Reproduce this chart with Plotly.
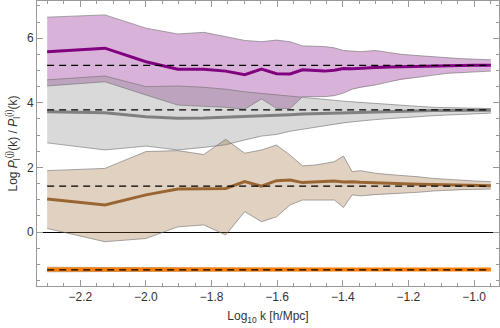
import numpy as np
import plotly.graph_objects as go

# k grid [h/Mpc] of the measured points
k = [0.005, 0.0075, 0.01, 0.0125, 0.015, 0.0175, 0.02, 0.0225, 0.025, 0.0275,
     0.03, 0.0325, 0.035, 0.0375, 0.04, 0.0425, 0.045, 0.05, 0.055, 0.06,
     0.0675, 0.075, 0.0825, 0.09, 0.1, 0.1125]

purple_hi = [6.65, 6.72, 6.31, 6.13, 6.18, 6.05, 5.93, 5.89, 5.94, 5.89, 5.76, 5.75, 5.74,
             5.70, 5.62, 5.60, 5.58, 5.62, 5.55, 5.50, 5.46, 5.42, 5.40, 5.37, 5.35, 5.33]
purple_mid = [5.58, 5.69, 5.27, 5.04, 5.04, 4.98, 4.87, 5.04, 4.90, 4.89, 5.02, 5.00, 4.98,
              5.01, 5.06, 5.05, 5.07, 5.09, 5.11, 5.12, 5.13, 5.14, 5.15, 5.15, 5.16, 5.16]
purple_lo = [4.52, 4.65, 4.24, 3.93, 3.89, 3.86, 3.80, 4.12, 3.83, 3.82, 4.19, 4.19, 4.19,
             4.22, 4.30, 4.42, 4.48, 4.55, 4.65, 4.73, 4.79, 4.86, 4.91, 4.93, 4.96, 4.98]

gray_hi = [4.71, 4.83, 4.50, 4.52, 4.48, 4.42, 4.34, 4.29, 4.24, 4.19, 4.16, 4.13, 4.10,
           4.08, 4.05, 4.03, 4.01, 3.98, 3.95, 3.92, 3.89, 3.86, 3.85, 3.84, 3.83, 3.82]
gray_mid = [3.72, 3.69, 3.57, 3.52, 3.53, 3.55, 3.57, 3.59, 3.61, 3.63, 3.65, 3.66, 3.67,
            3.68, 3.69, 3.70, 3.71, 3.72, 3.73, 3.74, 3.75, 3.76, 3.76, 3.77, 3.77, 3.77]
gray_lo = [2.76, 2.54, 2.66, 2.54, 2.62, 2.70, 2.85, 2.97, 3.02, 3.12, 3.18, 3.24, 3.28,
           3.33, 3.38, 3.41, 3.44, 3.48, 3.51, 3.54, 3.57, 3.60, 3.62, 3.64, 3.66, 3.68]

brown_hi = [1.90, 1.97, 2.49, 2.52, 2.40, 2.87, 2.44, 2.54, 2.69, 2.38, 2.05, 2.07, 2.12,
            2.18, 2.35, 1.87, 1.90, 1.82, 1.78, 1.76, 1.71, 1.66, 1.63, 1.60, 1.58, 1.56]
brown_mid = [1.02, 0.84, 1.15, 1.33, 1.34, 1.35, 1.56, 1.42, 1.59, 1.61, 1.53, 1.55, 1.57,
             1.58, 1.55, 1.56, 1.54, 1.52, 1.51, 1.49, 1.48, 1.47, 1.46, 1.45, 1.44, 1.43]
brown_lo = [0.11, -0.30, -0.20, 0.16, 0.22, -0.09, 0.63, 0.32, 0.47, 0.84, 0.99, 1.00, 0.99,
            0.99, 0.76, 1.15, 1.12, 1.16, 1.18, 1.20, 1.23, 1.27, 1.30, 1.31, 1.32, 1.33]

orange_hi = [-1.09, -1.10, -1.11, -1.11, -1.12, -1.12, -1.12, -1.13, -1.13, -1.13, -1.13, -1.13, -1.14,
             -1.14, -1.14, -1.14, -1.14, -1.14, -1.14, -1.14, -1.14, -1.14, -1.14, -1.14, -1.14, -1.14]
orange_mid = [-1.16] * 26
orange_lo = [-1.23, -1.22, -1.21, -1.21, -1.20, -1.20, -1.20, -1.19, -1.19, -1.19, -1.19, -1.19, -1.18,
             -1.18, -1.18, -1.18, -1.18, -1.18, -1.18, -1.18, -1.18, -1.18, -1.18, -1.18, -1.18, -1.18]

# expected (dashed) levels
expected = [5.16, 3.78, 1.42, -1.17]

SERIES = [
    (purple_lo, purple_mid, purple_hi, (128, 0, 128), 3),
    (gray_lo, gray_mid, gray_hi, (128, 128, 128), 3),
    (brown_lo, brown_mid, brown_hi, (153, 102, 51), 3),
    (orange_lo, orange_mid, orange_hi, (255, 128, 0), 4),
]

lk = np.log10(k)
fig = go.Figure()

for lo, mid, hi, rgb, w in SERIES:
    r, g, b = rgb
    fig.add_trace(go.Scatter(
        x=np.concatenate([lk, lk[::-1]]),
        y=np.concatenate([hi, lo[::-1]]),
        fill="toself", fillcolor=f"rgba({r},{g},{b},0.3)",
        line=dict(width=0), mode="lines", hoverinfo="skip",
    ))

for lo, mid, hi, rgb, w in SERIES:
    for edge in (hi, lo):
        fig.add_trace(go.Scatter(
            x=lk, y=edge, mode="lines",
            line=dict(color="rgba(110,110,110,0.75)", width=0.8),
        ))

for lo, mid, hi, rgb, w in SERIES:
    r, g, b = rgb
    fig.add_trace(go.Scatter(
        x=lk, y=mid, mode="lines",
        line=dict(color=f"rgb({r},{g},{b})", width=w),
    ))

for level in expected:
    fig.add_trace(go.Scatter(
        x=[lk[0], lk[-1]], y=[level, level], mode="lines",
        line=dict(color="black", width=1.3, dash="7px,5px"),
    ))

axis_style = dict(
    showline=True, linecolor="#999999", linewidth=1, mirror="allticks",
    ticks="inside", ticklen=6, tickcolor="#999999", showgrid=False,
    tickfont=dict(size=12, color="#333333"), automargin=False,
)

fig.update_xaxes(
    range=[-2.332, -0.924], tick0=-2.2, dtick=0.2, tickformat=".1f",
    minor=dict(dtick=0.05, tick0=-2.2, ticks="inside", ticklen=3, tickcolor="#999999"),
    title=dict(text="Log<sub>10</sub> k [h/Mpc]", font=dict(size=12, color="#333333"), standoff=8),
    zeroline=False, **axis_style,
)
fig.update_yaxes(
    range=[-1.67, 7.15], tick0=0, dtick=2,
    minor=dict(dtick=0.5, tick0=0, ticks="inside", ticklen=3, tickcolor="#999999"),
    title=dict(text="Log <i>P</i><sub>l</sub><sup>(j)</sup>(k) / <i>P</i><sub>l</sub><sup>(i)</sup>(k)",
               font=dict(size=12, color="#333333"), standoff=6),
    zeroline=True, zerolinecolor="black", zerolinewidth=1,
    **axis_style,
)

fig.update_layout(
    width=500, height=328,
    margin=dict(l=37, r=1, t=1, b=42),
    paper_bgcolor="white", plot_bgcolor="white",
    showlegend=False,
    font=dict(family="Liberation Sans, Arial, sans-serif"),
)

fig.write_html(
    "out.html",
    config={"displayModeBar": False},
    post_script="document.body.style.margin = '0';",
)
